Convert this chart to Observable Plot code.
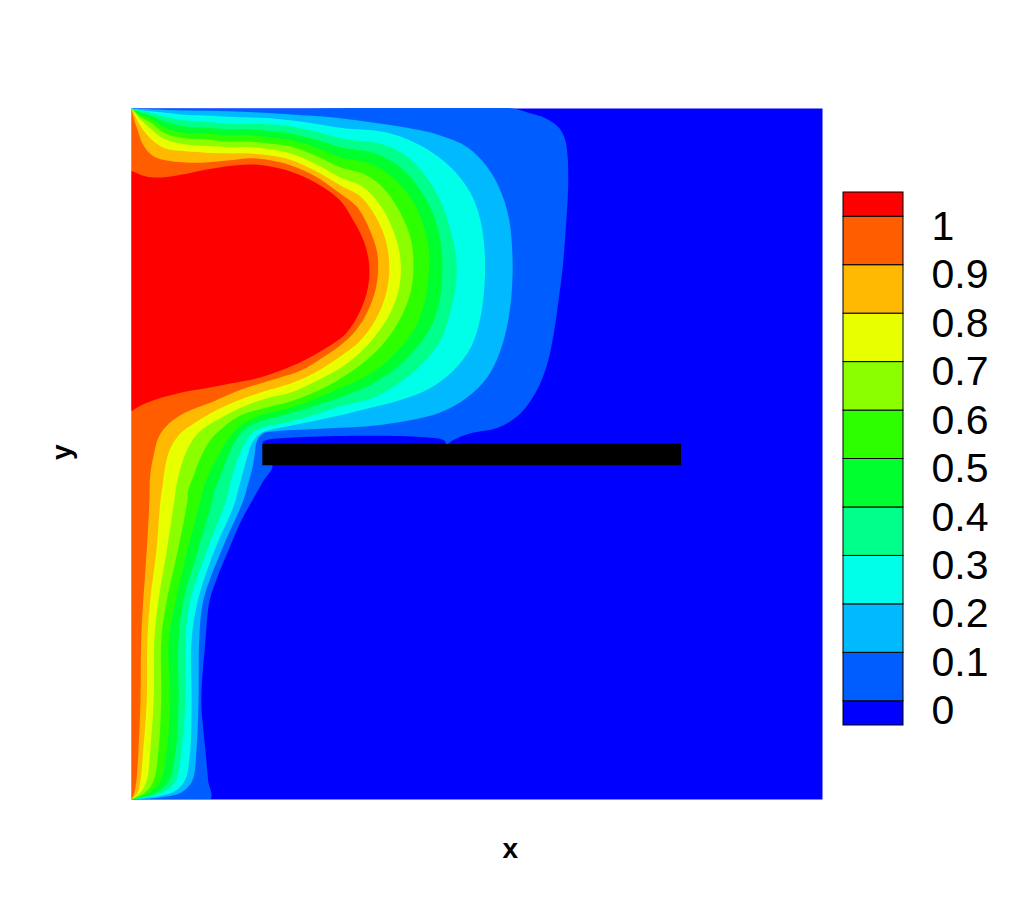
<!DOCTYPE html>
<html><head><meta charset="utf-8">
<script src="https://cdn.jsdelivr.net/npm/d3@7"></script>
<script src="https://cdn.jsdelivr.net/npm/@observablehq/plot@0.6"></script>
<style>
html,body{margin:0;padding:0;background:#fff;overflow:hidden;}
#chart{position:relative;width:1012px;height:900px;}
#chart svg{position:absolute;left:0;top:0;}
</style></head><body><div id="chart"></div>
<script>
// contour levels and band colours (band below 0 first, band above 1 last)
const levels = [0, 0.1, 0.2, 0.3, 0.4, 0.5, 0.6, 0.7, 0.8, 0.9, 1];
const colors = ["#0000ff","#005dff","#00b9ff","#00ffe8","#00ff8b","#00ff2e","#2eff00","#8bff00","#e8ff00","#ffb900","#ff5d00","#ff0000"];
const legendLabels = ["0","0.1","0.2","0.3","0.4","0.5","0.6","0.7","0.8","0.9","1"];
// the solid plate
const plate = [{x1: 0.190, x2: 0.796, y1: 0.483, y2: 0.514}];

// iso-lines: region to the left of each line has value >= level
const iso00 = [[0,1],[0.245,1],[0.551,1],[0.577,0.993],[0.599,0.986],[0.617,0.974],[0.627,0.957],[0.631,0.932],[0.632,0.892],[0.628,0.819],[0.624,0.770],[0.618,0.722],[0.611,0.674],[0.601,0.628],[0.585,0.589],[0.560,0.556],[0.530,0.538],[0.491,0.530],[0.465,0.520],[0.456,0.514],[0.452,0.520],[0.194,0.520],[0.190,0.517],[0.195,0.498],[0.204,0.482],[0.190,0.460],[0.175,0.433],[0.158,0.402],[0.140,0.360],[0.124,0.321],[0.113,0.288],[0.107,0.230],[0.101,0.143],[0.104,0.100],[0.107,0.071],[0.111,0.027],[0.114,0],[0,0]];
const iso01 = [[0,1],[0.027,0.999],[0.078,0.997],[0.140,0.996],[0.237,0.991],[0.302,0.986],[0.399,0.972],[0.447,0.961],[0.486,0.944],[0.515,0.915],[0.534,0.881],[0.546,0.842],[0.551,0.794],[0.551,0.747],[0.546,0.698],[0.534,0.650],[0.515,0.611],[0.486,0.582],[0.447,0.560],[0.399,0.548],[0.350,0.541],[0.302,0.538],[0.245,0.535],[0.208,0.533],[0.191,0.530],[0.182,0.520],[0.178,0.498],[0.175,0.480],[0.168,0.454],[0.162,0.433],[0.130,0.360],[0.104,0.288],[0.098,0.230],[0.097,0.143],[0.094,0.071],[0.088,0.027],[0.072,0.010],[0.042,0.003],[0,0]];
const iso02 = [[0,1],[0.013,0.998],[0.027,0.996],[0.049,0.994],[0.078,0.991],[0.107,0.990],[0.143,0.988],[0.172,0.987],[0.201,0.986],[0.230,0.983],[0.266,0.978],[0.302,0.972],[0.375,0.964],[0.423,0.944],[0.462,0.915],[0.491,0.877],[0.505,0.838],[0.511,0.794],[0.511,0.747],[0.505,0.698],[0.491,0.654],[0.466,0.621],[0.433,0.596],[0.389,0.578],[0.342,0.566],[0.302,0.556],[0.266,0.548],[0.230,0.541],[0.201,0.535],[0.184,0.528],[0.174,0.515],[0.168,0.498],[0.162,0.476],[0.155,0.450],[0.148,0.425],[0.120,0.360],[0.096,0.288],[0.087,0.230],[0.087,0.143],[0.085,0.071],[0.077,0.027],[0.059,0.010],[0,0]];
const iso03 = [[0,1],[0.013,0.997],[0.027,0.994],[0.049,0.988],[0.078,0.983],[0.107,0.981],[0.143,0.978],[0.172,0.978],[0.201,0.977],[0.230,0.974],[0.266,0.967],[0.302,0.957],[0.360,0.949],[0.397,0.932],[0.425,0.903],[0.447,0.867],[0.462,0.823],[0.470,0.780],[0.470,0.751],[0.462,0.708],[0.447,0.664],[0.418,0.628],[0.382,0.599],[0.346,0.580],[0.302,0.569],[0.266,0.557],[0.230,0.547],[0.190,0.538],[0.172,0.528],[0.162,0.512],[0.153,0.491],[0.145,0.465],[0.137,0.433],[0.109,0.360],[0.085,0.288],[0.078,0.230],[0.078,0.143],[0.072,0.071],[0.064,0.027],[0.045,0.010],[0,0]];
const iso04 = [[0,1],[0.013,0.994],[0.027,0.990],[0.049,0.981],[0.078,0.974],[0.107,0.972],[0.143,0.970],[0.172,0.970],[0.201,0.967],[0.230,0.964],[0.266,0.955],[0.302,0.944],[0.353,0.935],[0.389,0.915],[0.415,0.886],[0.436,0.849],[0.447,0.809],[0.450,0.770],[0.447,0.729],[0.436,0.690],[0.415,0.657],[0.386,0.627],[0.349,0.602],[0.302,0.582],[0.266,0.570],[0.230,0.559],[0.190,0.548],[0.165,0.537],[0.151,0.520],[0.140,0.498],[0.129,0.469],[0.120,0.447],[0.117,0.433],[0.096,0.360],[0.075,0.288],[0.068,0.230],[0.068,0.143],[0.064,0.071],[0.054,0.027],[0.036,0.010],[0,0]];
const iso05 = [[0,1],[0.013,0.991],[0.027,0.986],[0.049,0.972],[0.078,0.965],[0.107,0.964],[0.143,0.961],[0.172,0.961],[0.201,0.958],[0.230,0.954],[0.266,0.944],[0.302,0.929],[0.346,0.920],[0.378,0.900],[0.404,0.871],[0.421,0.835],[0.430,0.797],[0.430,0.758],[0.424,0.719],[0.410,0.682],[0.386,0.650],[0.353,0.621],[0.302,0.595],[0.266,0.580],[0.230,0.567],[0.190,0.557],[0.158,0.541],[0.140,0.522],[0.126,0.498],[0.111,0.469],[0.103,0.447],[0.100,0.433],[0.081,0.360],[0.064,0.288],[0.054,0.230],[0.056,0.143],[0.051,0.071],[0.042,0.027],[0.027,0.010],[0,0]];
const iso06 = [[0,1],[0.013,0.988],[0.027,0.980],[0.049,0.964],[0.078,0.957],[0.107,0.955],[0.143,0.952],[0.172,0.952],[0.201,0.949],[0.230,0.945],[0.266,0.932],[0.302,0.915],[0.339,0.904],[0.368,0.881],[0.389,0.849],[0.404,0.812],[0.408,0.773],[0.404,0.734],[0.389,0.696],[0.368,0.664],[0.339,0.635],[0.302,0.609],[0.266,0.590],[0.230,0.576],[0.190,0.566],[0.158,0.556],[0.132,0.538],[0.114,0.520],[0.100,0.495],[0.090,0.469],[0.082,0.447],[0.081,0.433],[0.067,0.360],[0.051,0.288],[0.043,0.230],[0.043,0.143],[0.039,0.071],[0.032,0.027],[0.020,0.010],[0,0]];
const iso07 = [[0,1],[0.013,0.984],[0.027,0.971],[0.049,0.955],[0.078,0.948],[0.107,0.946],[0.143,0.944],[0.172,0.944],[0.201,0.941],[0.230,0.935],[0.266,0.920],[0.302,0.900],[0.334,0.887],[0.360,0.860],[0.379,0.823],[0.389,0.783],[0.388,0.744],[0.375,0.705],[0.353,0.671],[0.329,0.645],[0.302,0.624],[0.266,0.605],[0.230,0.589],[0.190,0.579],[0.158,0.567],[0.122,0.548],[0.097,0.531],[0.082,0.509],[0.072,0.483],[0.065,0.454],[0.062,0.433],[0.051,0.360],[0.039,0.288],[0.033,0.230],[0.032,0.143],[0.027,0.071],[0.022,0.027],[0.013,0.010],[0,0]];
const iso08 = [[0,1],[0.013,0.975],[0.027,0.957],[0.049,0.942],[0.078,0.938],[0.107,0.936],[0.143,0.935],[0.172,0.935],[0.201,0.932],[0.230,0.926],[0.266,0.910],[0.302,0.889],[0.331,0.873],[0.353,0.844],[0.368,0.809],[0.373,0.773],[0.369,0.734],[0.354,0.696],[0.331,0.664],[0.302,0.641],[0.266,0.618],[0.230,0.602],[0.190,0.590],[0.158,0.579],[0.122,0.563],[0.093,0.546],[0.071,0.530],[0.056,0.508],[0.049,0.483],[0.045,0.454],[0.042,0.433],[0.036,0.360],[0.027,0.288],[0.023,0.230],[0.022,0.143],[0.017,0.071],[0.013,0.027],[0.009,0.010],[0,0]];
const iso09 = [[0,1],[0.004,0.983],[0.009,0.968],[0.016,0.949],[0.030,0.932],[0.049,0.925],[0.078,0.922],[0.107,0.922],[0.143,0.925],[0.172,0.928],[0.201,0.925],[0.230,0.918],[0.266,0.902],[0.302,0.877],[0.326,0.858],[0.344,0.826],[0.355,0.794],[0.357,0.768],[0.353,0.737],[0.340,0.703],[0.323,0.677],[0.302,0.657],[0.274,0.638],[0.245,0.621],[0.216,0.611],[0.190,0.603],[0.158,0.593],[0.116,0.575],[0.078,0.560],[0.054,0.544],[0.039,0.524],[0.032,0.498],[0.027,0.469],[0.026,0.433],[0.022,0.360],[0.017,0.288],[0.014,0.230],[0.013,0.143],[0.010,0.071],[0.007,0.027],[0.004,0.010],[0,0]];
const iso10 = [[0,0.910],[0.020,0.902],[0.042,0.900],[0.071,0.904],[0.100,0.910],[0.136,0.916],[0.172,0.919],[0.201,0.916],[0.230,0.909],[0.266,0.893],[0.302,0.867],[0.321,0.838],[0.337,0.806],[0.344,0.773],[0.342,0.740],[0.330,0.705],[0.310,0.674],[0.281,0.653],[0.249,0.635],[0.216,0.621],[0.179,0.609],[0.143,0.602],[0.107,0.595],[0.068,0.588],[0.035,0.579],[0.013,0.570],[0,0.562]];

const isolines = [iso00, iso01, iso02, iso03, iso04, iso05, iso06, iso07, iso08, iso09, iso10];
const colorScale = {type: "threshold", domain: levels, range: colors};
const font = "'Liberation Sans', Arial, Helvetica, sans-serif";

const main = Plot.plot({
  width: 1012, height: 900,
  marginLeft: 131, marginRight: 190, marginTop: 108, marginBottom: 101,
  x: {domain: [0, 1], axis: null},
  y: {domain: [0, 1], axis: null},
  color: colorScale,
  style: {fontFamily: font, background: "white", color: "black"},
  marks: [
    Plot.frame({fill: colors[0], stroke: "none"}),
    ...isolines.map((pts, i) => Plot.line(pts, {
      x: d => d[0], y: d => d[1], fill: () => levels[i],
      stroke: "none", curve: "catmull-rom", clip: true
    })),
    Plot.rect(plate, {x1: "x1", x2: "x2", y1: "y1", y2: "y2", fill: "black"}),
    Plot.text(["x"], {x: () => 0.548, frameAnchor: "bottom", dy: 58, fontSize: 28, fontWeight: "bold", fill: "black"}),
    Plot.text(["y"], {frameAnchor: "left", dx: -69, dy: 6, rotate: -90, fontSize: 28, fontWeight: "bold", fill: "black"})
  ]
});

// legend bands: half band below 0, one per interval, half band above 1
const bands = [{lo: -0.05, hi: levels[0]}].concat(
  levels.map((l, i) => ({lo: l, hi: i < levels.length - 1 ? levels[i + 1] : 1.05})));

const legend = Plot.plot({
  width: 1012, height: 900,
  marginLeft: 843, marginRight: 109, marginTop: 192, marginBottom: 175,
  x: {domain: [0, 1], axis: null},
  y: {domain: [-0.05, 1.05], axis: null},
  color: colorScale,
  style: {fontFamily: font, background: "transparent", color: "black"},
  marks: [
    Plot.rect(bands, {x1: 0, x2: 1, y1: "lo", y2: "hi", fill: "lo", stroke: "black", strokeWidth: 1}),
    Plot.text(levels, {x: 1, y: d => d, text: (d, i) => legendLabels[i], dx: 28, dy: 10,
      textAnchor: "start", fontSize: 41, fill: "black"})
  ]
});

const chart = document.getElementById("chart");
chart.appendChild(main);
chart.appendChild(legend);
</script>
</body></html>
